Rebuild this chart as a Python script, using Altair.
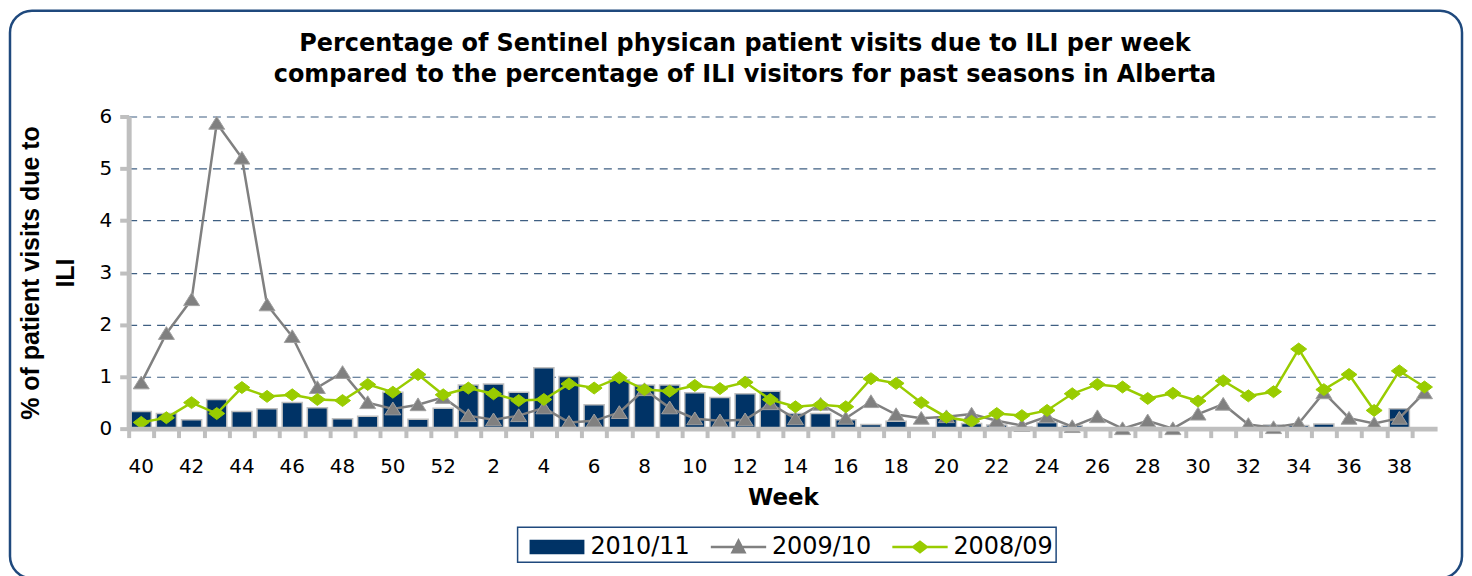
import altair as alt
import pandas as pd

# ---- data -------------------------------------------------------------
weeks = [str(w) for w in list(range(40, 53)) + list(range(1, 40))]
label_weeks = [str(w) for w in list(range(40, 53, 2)) + list(range(2, 40, 2))]

s2010 = [0.33, 0.29, 0.17, 0.56, 0.33, 0.38, 0.50, 0.40, 0.19, 0.24, 0.70, 0.18, 0.39,
         0.84, 0.86, 0.70, 1.17, 1.00, 0.46, 0.94, 0.84, 0.84, 0.69, 0.60, 0.67, 0.72,
         0.29, 0.29, 0.17, 0.08, 0.14, 0.00, 0.20, 0.10, 0.07, 0.03, 0.12, 0.06, 0.00,
         0.00, 0.00, 0.00, 0.00, 0.00, 0.00, 0.07, 0.06, 0.09, 0.00, 0.00, 0.38, 0.00]

s2009 = [0.88, 1.83, 2.48, 5.87, 5.20, 2.38, 1.77, 0.79, 1.08, 0.50, 0.38, 0.46, 0.60,
         0.25, 0.17, 0.25, 0.40, 0.12, 0.15, 0.31, 0.75, 0.40, 0.19, 0.15, 0.17, 0.48,
         0.19, 0.47, 0.20, 0.52, 0.27, 0.20, 0.23, 0.28, 0.15, 0.06, 0.23, 0.04, 0.23,
         0.00, 0.15, 0.00, 0.28, 0.47, 0.08, 0.02, 0.10, 0.69, 0.20, 0.10, 0.20, 0.69]

s2008 = [0.12, 0.21, 0.50, 0.29, 0.79, 0.62, 0.65, 0.56, 0.54, 0.85, 0.70, 1.04, 0.65,
         0.78, 0.67, 0.54, 0.56, 0.86, 0.78, 0.98, 0.75, 0.72, 0.83, 0.77, 0.89, 0.56,
         0.42, 0.46, 0.42, 0.96, 0.87, 0.50, 0.22, 0.14, 0.29, 0.25, 0.35, 0.67, 0.85,
         0.80, 0.58, 0.68, 0.53, 0.92, 0.63, 0.71, 1.53, 0.75, 1.04, 0.35, 1.11, 0.80]

series_names = ["2010/11", "2009/10", "2008/09"]
series_colors = ["#003366", "#808080", "#99cc00"]

df = pd.DataFrame({"week": weeks, "v2010": s2010, "v2009": s2009, "v2008": s2008})
legend_df = pd.DataFrame({"series": series_names, "v": [None, None, None]})

# ---- layout -----------------------------------------------------------
W, H = 1312, 313
N = len(weeks)
step = W / N

x_scale = alt.Scale(paddingInner=0.2, paddingOuter=0.1)
y_scale = alt.Scale(domain=[0, 6], nice=False, zero=True)

y_axis = alt.Axis(
    values=[0, 1, 2, 3, 4, 5, 6], grid=True, gridDash=[8, 6], gridColor="#3f5f82",
    gridWidth=1.2, domainColor="#bfbfbf", domainWidth=5, tickColor="#bfbfbf",
    tickWidth=4, tickSize=9, labelFont="DejaVu Sans", labelFontSize=20,
    labelColor="black", labelPadding=8,
    title=["% of patient visits due to", "ILI"], titleFont="Liberation Sans",
    titleFontSize=25, titleFontWeight="bold", titleColor="black",
    titleX=-98, titleY=H / 2, titleBaseline="middle", titleLineHeight=35, titleAlign="center",
)

x_axis_main = alt.Axis(
    title="Week", values=label_weeks, labelAngle=0, ticks=False, tickSize=0,
    domainColor="#bfbfbf", domainWidth=5, labelFont="DejaVu Sans", labelFontSize=20,
    labelColor="black", labelPadding=28, titleFont="DejaVu Sans", titleFontSize=23,
    titleFontWeight="bold", titleColor="black", titlePadding=10, zindex=1, orient="bottom",
)

x_axis_ticks = alt.Axis(
    orient="bottom", labels=False, domain=False, grid=False, ticks=True, tickSize=9,
    tickWidth=4, tickColor="#bfbfbf", bandPosition=0, tickOffset=-step * 0.1,
    title=None, zindex=1,
)

# legend symbols (line + marker, wide bar)
legend_shapes = [
    "M-1.75,-0.4H1.75V0.4H-1.75Z",
    "M-1.85,0H1.85M-0.4,0.35L0,-0.42L0.4,0.35Z",
    "M-1.85,0H1.85M-0.45,0L0,-0.35L0.45,0L0,0.35Z",
]

leg = alt.Legend(title=None)

border = alt.Chart(pd.DataFrame({"a": [0]})).mark_rect(
    fillOpacity=0, stroke="#1f497d", strokeWidth=2.5, cornerRadius=22
).encode(
    x=alt.value(-119), x2=alt.value(1337), y=alt.value(-106), y2=alt.value(463)
)

bars = alt.Chart(df).mark_bar(
    color="#003366", stroke="#bfbfbf", strokeWidth=1.5
).encode(
    x=alt.X("week:N", sort=weeks, scale=x_scale, axis=x_axis_main),
    y=alt.Y("v2010:Q", scale=y_scale, axis=y_axis),
)

xb = alt.X("week:N", sort=weeks, scale=x_scale, axis=x_axis_ticks)

line09 = alt.Chart(df).mark_line(color="#808080", strokeWidth=2.5).encode(
    x=xb, y=alt.Y("v2009:Q", scale=y_scale, axis=y_axis)
)
pts09 = alt.Chart(df).mark_point(
    shape="M-1,0.75L0,-0.85L1,0.75Z", size=256, filled=True, fill="#808080",
    stroke="#a0a0a0", strokeWidth=1, opacity=1
).encode(x=xb, y=alt.Y("v2009:Q", scale=y_scale, axis=y_axis))

line08 = alt.Chart(df).mark_line(color="#99cc00", strokeWidth=2.5).encode(
    x=xb, y=alt.Y("v2008:Q", scale=y_scale, axis=y_axis)
)
pts08 = alt.Chart(df).mark_point(
    shape="M-1,0L0,-0.75L1,0L0,0.75Z", size=256, filled=True, fill="#99cc00",
    stroke="#99cc00", strokeWidth=1, opacity=1
).encode(x=xb, y=alt.Y("v2008:Q", scale=y_scale, axis=y_axis))

legend_layer = alt.Chart(legend_df).mark_point(filled=True, opacity=1).encode(
    y=alt.Y("v:Q", scale=y_scale, axis=y_axis),
    fill=alt.Fill("series:N", scale=alt.Scale(domain=series_names, range=series_colors), legend=leg),
    stroke=alt.Stroke("series:N", scale=alt.Scale(domain=series_names, range=series_colors), legend=leg),
    shape=alt.Shape("series:N", scale=alt.Scale(domain=series_names, range=legend_shapes), legend=leg),
)

layer_b = alt.layer(line09, pts09, line08, pts08, legend_layer)

chart = alt.layer(border, bars, layer_b).resolve_axis(x="independent").properties(
    width=W, height=H, padding=0,
    title=alt.TitleParams(
        text=["Percentage of Sentinel physican patient visits due to ILI per week",
              "compared to the percentage of ILI visitors for past seasons in Alberta"],
        font="DejaVu Sans", fontSize=24, fontWeight="bold", color="black",
        anchor="middle", dx=-38, offset=-78, lineHeight=31,
    ),
).configure_view(stroke=None).configure_legend(
    orient="none", legendX=390, legendY=412, direction="horizontal",
    symbolSize=900, symbolOffset=20, labelOffset=17, columnPadding=12, padding=3,
    strokeColor="#1f497d", strokeWidth=1.5, labelFont="DejaVu Sans", labelFontSize=24,
    labelColor="black", symbolStrokeWidth=2.5, symbolOpacity=1,
)

chart.save("out.html", embed_options={"renderer": "svg", "actions": False})
